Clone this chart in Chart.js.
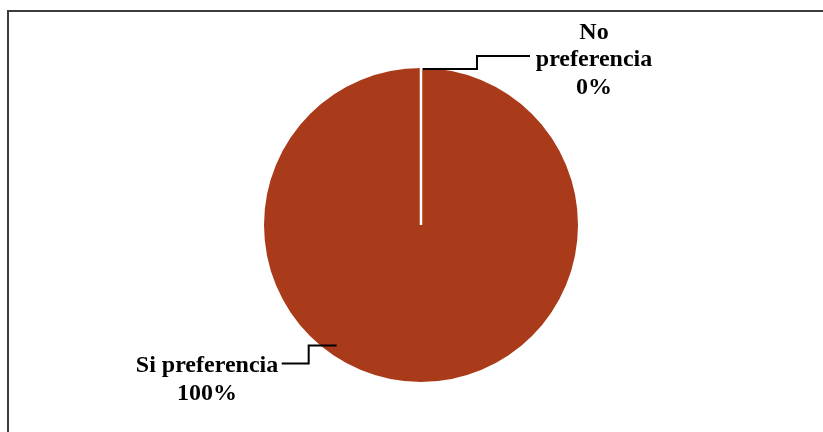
<!DOCTYPE html>
<html lang="es">
<head>
<meta charset="utf-8">
<title>Preferencia</title>
<script src="https://cdn.jsdelivr.net/npm/chart.js@4"></script>
<style>
  html, body { margin: 0; padding: 0; background: #ffffff; overflow: hidden; }
  .frame {
    position: absolute;
    left: 7px;
    top: 10px;
    width: 900px;
    height: 500px;
    border-top: 2px solid #3c3c3c;
    border-left: 2px solid #3c3c3c;
  }
  .wrap { position: absolute; left: 0; top: 0; width: 823px; height: 432px; }
</style>
</head>
<body>
<div class="frame"></div>
<div class="wrap"><canvas id="chart-preferencia" width="823" height="432"></canvas></div>
<script>
const categorias = ['Si preferencia', 'No preferencia'];
const valores = [100, 0];
const porcentajes = ['100%', '0%'];

const sliceColor = '#aa3b1a';
const labelFont = 'bold 24px "Liberation Serif", "Times New Roman", serif';

// White radial edge where the empty slice sits, plus stepped leader lines and labels
const labelPlugin = {
  id: 'labelPlugin',
  afterDatasetsDraw(chart) {
    const ctx = chart.ctx;
    const arcs = chart.getDatasetMeta(0).data;
    const cx = arcs[0].x;
    const cy = arcs[0].y;
    const r = arcs[0].outerRadius;

    ctx.save();

    // edge of the 0% slice
    const a = arcs[1].startAngle;
    ctx.strokeStyle = '#ffffff';
    ctx.lineWidth = 2.5;
    ctx.beginPath();
    ctx.moveTo(cx, cy);
    ctx.lineTo(cx + Math.cos(a) * r, cy + Math.sin(a) * r);
    ctx.stroke();

    ctx.strokeStyle = '#000000';
    ctx.lineWidth = 2;
    ctx.lineJoin = 'miter';

    // leader for "No preferencia"
    const nx = cx + Math.cos(a) * r + 2;
    const ny = cy + Math.sin(a) * r + 1;
    ctx.beginPath();
    ctx.moveTo(nx, ny);
    ctx.lineTo(nx + 54, ny);
    ctx.lineTo(nx + 54, ny - 13);
    ctx.lineTo(nx + 107, ny - 13);
    ctx.stroke();

    // leader for "Si preferencia"
    const sa = (125 * Math.PI) / 180;
    const sx = cx + Math.cos(sa) * (r - 10);
    const sy = cy + Math.sin(sa) * (r - 10);
    ctx.beginPath();
    ctx.moveTo(sx, sy);
    ctx.lineTo(sx - 28, sy);
    ctx.lineTo(sx - 28, sy + 18);
    ctx.lineTo(sx - 55, sy + 18);
    ctx.stroke();

    ctx.fillStyle = '#000000';
    ctx.font = labelFont;
    ctx.textAlign = 'center';
    ctx.textBaseline = 'middle';

    ctx.fillText('No', 594, 33);
    ctx.fillText('preferencia', 594, 60);
    ctx.fillText(porcentajes[1], 594, 88);

    ctx.fillText(categorias[0], 207, 366);
    ctx.fillText(porcentajes[0], 207, 394);

    ctx.restore();
  },
};

new Chart(document.getElementById('chart-preferencia'), {
  type: 'pie',
  data: {
    labels: categorias,
    datasets: [{
      data: valores,
      backgroundColor: [sliceColor, sliceColor],
      borderWidth: 0,
    }],
  },
  options: {
    responsive: false,
    animation: false,
    layout: { padding: { left: 100, right: 81, top: 68, bottom: 50 } },
    plugins: {
      legend: { display: false },
      tooltip: { enabled: false },
    },
  },
  plugins: [labelPlugin],
});
</script>
</body>
</html>
